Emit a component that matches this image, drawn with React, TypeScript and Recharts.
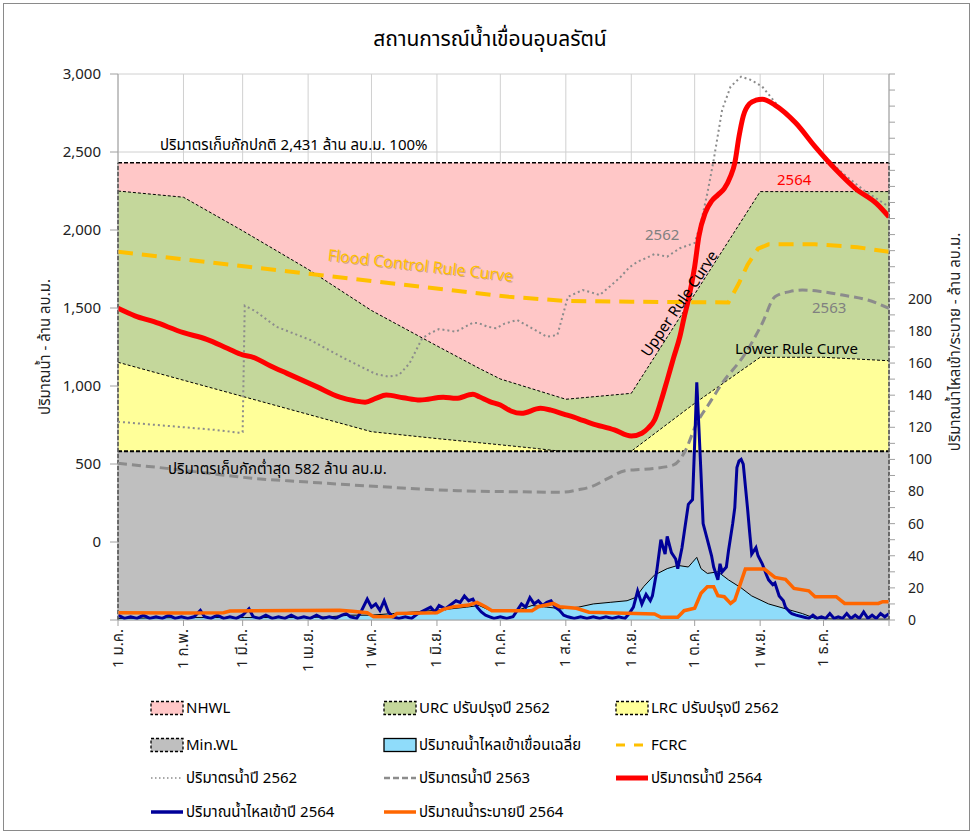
import React from 'react';
import { ComposedChart, Area, Line, XAxis, YAxis, CartesianGrid, ReferenceLine, Legend } from 'recharts';

const FONT = "Tahoma, 'Leelawadee UI', 'Noto Sans Thai', 'Noto Sans', 'DejaVu Sans', sans-serif";

// x = day of year (0 = 1 Jan)
const monthTicks = [0, 31, 59, 90, 120, 151, 181, 212, 243, 273, 304, 334, 365];
const monthLabels = ['1 ม.ค.', '1 ก.พ.', '1 มี.ค.', '1 เม.ย.', '1 พ.ค.', '1 มิ.ย.', '1 ก.ค.', '1 ส.ค.', '1 ก.ย.', '1 ต.ค.', '1 พ.ย.', '1 ธ.ค.', ''];
const leftTicks = [-500, 0, 500, 1000, 1500, 2000, 2500, 3000];
const rightTicks = [0, 10, 20, 30, 40, 50, 60, 70, 80, 90, 100, 110, 120, 130, 140, 150, 160, 170, 180, 190, 200, 210, 220, 230, 240, 250, 260, 270, 280, 290, 300, 310, 320, 330, 340];

const nhwl: [number, number][] = [[0, 2431], [365, 2431]];
const urc: [number, number][] = [[0, 2250], [31, 2210], [59, 1995], [90, 1748], [120, 1484], [151, 1257], [171, 1113], [181, 1045], [212, 915], [243, 953], [304, 2246], [365, 2246]];
const lrc: [number, number][] = [[0, 1152], [120, 707], [151, 663], [181, 623], [197, 601], [208, 584], [212, 582], [243, 582], [273, 889], [304, 1184], [334, 1184], [365, 1162]];
const minWL: [number, number][] = [[0, 582], [365, 582]];
const fcrc: [number, number][] = [[0, 1861], [185, 1572], [212, 1545], [243, 1540], [289, 1536], [294, 1660], [298, 1776], [303, 1880], [308, 1908], [330, 1908], [350, 1890], [365, 1860]];

const vol2562: [number, number][] = [[0, 771], [14, 755], [28, 739], [45, 720], [57, 701], [59, 705], [60, 1515], [65, 1480], [75, 1380], [91, 1295], [107, 1178], [122, 1077], [128, 1060], [133, 1070], [138, 1145], [144, 1306], [148, 1340], [152, 1365], [160, 1348], [168, 1406], [171, 1402], [175, 1380], [179, 1370], [183, 1400], [189, 1423], [196, 1370], [203, 1316], [208, 1327], [213, 1572], [220, 1615], [224, 1600], [228, 1583], [233, 1640], [238, 1700], [242, 1760], [246, 1797], [250, 1820], [254, 1846], [260, 1829], [266, 1883], [273, 1917], [276, 2050], [279, 2235], [282, 2449], [286, 2770], [290, 2919], [295, 2983], [300, 2960], [305, 2919], [314, 2770], [324, 2631], [333, 2492], [343, 2364], [353, 2256], [365, 2149]];
const vol2563: [number, number][] = [[0, 504], [23, 472], [40, 445], [64, 408], [88, 386], [125, 354], [161, 329], [190, 322], [210, 319], [218, 335], [224, 354], [232, 408], [240, 457], [244, 462], [254, 472], [263, 494], [268, 570], [274, 761], [280, 890], [286, 1017], [297, 1209], [305, 1402], [311, 1572], [318, 1605], [324, 1615], [333, 1605], [343, 1583], [355, 1551], [365, 1498]];
const vol2564: [number, number][] = [[0, 1498], [8, 1450], [17, 1412], [31, 1342], [42, 1299], [52, 1240], [59, 1199], [64, 1184], [72, 1130], [80, 1081], [94, 996], [105, 928], [112, 905], [117, 896], [122, 920], [127, 942], [135, 925], [143, 910], [154, 928], [160, 921], [168, 947], [171, 931], [176, 900], [181, 878], [186, 840], [191, 825], [200, 857], [205, 845], [211, 820], [218, 790], [224, 761], [235, 718], [243, 679], [248, 697], [251, 730], [254, 782], [257, 900], [260, 1038], [263, 1180], [266, 1316], [268, 1440], [270, 1551], [273, 1765], [275, 1960], [278, 2110], [281, 2185], [284, 2225], [287, 2265], [290, 2345], [292, 2430], [294, 2600], [296, 2730], [299, 2810], [302, 2832], [305, 2838], [311, 2801], [321, 2684], [330, 2534], [340, 2384], [349, 2267], [359, 2171], [365, 2085]];

const avgInflow: [number, number][] = [[0, 1], [30, 1.5], [60, 1.5], [90, 1.5], [100, 2], [110, 3], [120, 3], [130, 4], [140, 5], [150, 6], [158, 7], [165, 8], [171, 9], [176, 6], [182, 6], [189, 6], [196, 9], [203, 8], [210, 7], [218, 8], [225, 10], [233, 11], [241, 12], [245, 14], [249, 21], [254, 28], [260, 32], [265, 34], [270, 33], [272, 36], [274, 39], [276, 32], [279, 29], [284, 30], [289, 25], [295, 20], [300, 15], [308, 10], [316, 7], [324, 4], [330, 1], [340, 0.5], [365, 0.5]];
const inflow2564: [number, number][] = [[0, 3], [3, 1], [6, 2], [9, 1], [12, 3], [15, 1], [18, 2], [21, 1], [24, 3], [27, 1], [30, 2], [33, 1], [36, 2], [39, 6], [41, 2], [44, 1], [47, 3], [50, 1], [53, 2], [56, 1], [59, 3], [62, 7], [64, 2], [67, 1], [70, 3], [73, 1], [76, 2], [79, 1], [82, 3], [85, 1], [88, 2], [91, 1], [94, 3], [97, 1], [100, 2], [103, 1], [106, 3], [108, 4], [110, 2], [113, 1], [115, 5], [118, 13], [120, 8], [122, 10], [124, 6], [126, 12], [128, 5], [130, 2], [133, 1], [136, 2], [139, 1], [142, 4], [145, 6], [148, 8], [150, 5], [152, 9], [155, 7], [158, 10], [160, 12], [162, 11], [164, 15], [166, 12], [168, 13], [170, 8], [172, 5], [174, 3], [176, 2], [178, 1], [181, 2], [184, 1], [187, 2], [189, 6], [191, 10], [193, 8], [195, 14], [197, 10], [199, 12], [201, 9], [203, 11], [205, 12], [207, 8], [209, 6], [211, 3], [213, 2], [216, 1], [219, 2], [222, 1], [225, 2], [228, 1], [231, 2], [234, 1], [237, 2], [240, 1], [242, 4], [244, 8], [246, 18], [248, 10], [250, 16], [252, 12], [253, 15], [255, 30], [257, 50], [259, 41], [260, 52], [262, 42], [264, 38], [265, 32], [267, 45], [268, 54], [270, 72], [272, 75], [273, 110], [274, 148], [275, 120], [276, 91], [277, 60], [279, 50], [281, 40], [282, 33], [284, 25], [285, 35], [286, 30], [288, 33], [289, 43], [291, 60], [292, 70], [293, 95], [294, 99], [295, 100], [296, 97], [298, 70], [299, 55], [300, 41], [302, 45], [303, 40], [305, 35], [307, 28], [308, 25], [310, 22], [311, 23], [313, 15], [315, 12], [316, 8], [318, 5], [319, 4], [321, 3], [324, 2], [327, 1], [329, 3], [331, 1], [333, 2], [335, 1], [337, 4], [339, 1], [341, 2], [343, 1], [345, 4], [347, 1], [349, 3], [351, 1], [353, 5], [355, 1], [357, 3], [359, 1], [361, 4], [363, 2], [365, 4]];
const release2564: [number, number][] = [[0, 4.5], [31, 4.3], [50, 4.5], [53, 5.6], [105, 6], [111, 5.5], [118, 4.5], [121, 2], [130, 2], [132, 4], [151, 4.5], [154, 6.6], [159, 8.3], [166, 9.3], [170, 11], [174, 8.3], [177, 5.8], [196, 5.8], [199, 8.3], [206, 10.3], [209, 8.3], [217, 7.3], [223, 4.8], [254, 3.7], [257, 1.7], [265, 1.7], [268, 5.8], [273, 7.3], [276, 16.6], [279, 20.7], [282, 20.7], [284, 15.1], [287, 14.5], [290, 10.3], [292, 12.4], [297, 31.7], [306, 31.7], [311, 26.5], [316, 25.3], [320, 19.7], [327, 18.2], [330, 14.5], [340, 14.5], [344, 10.3], [360, 10.3], [362, 11.4], [365, 11.4]];

const pts = (a: [number, number][]) => a.map(([d, v]) => ({ d, v }));

const XTick = (props: any) => {
  const { x, y, payload } = props;
  const i = monthTicks.indexOf(payload.value);
  const label = i >= 0 ? monthLabels[i] : '';
  return (
    <text x={x} y={y} transform={`rotate(-90 ${x} ${y})`} textAnchor="end" dominantBaseline="central"
      fontSize={15} fontFamily={FONT} fill="#222">{label}</text>
  );
};

const areaIcon = (fill: string, dashed: boolean) => (
  <svg width={36} height={18} style={{ display: 'block' }}>
    <rect x={1} y={2.5} width={32} height={13} fill={fill} stroke="#000" strokeWidth={1.3} strokeDasharray={dashed ? '3 2' : undefined} />
  </svg>
);
const lineIcon = (color: string, width: number, dash?: string) => (
  <svg width={36} height={18} style={{ display: 'block' }}>
    <line x1={1} y1={9} x2={33} y2={9} stroke={color} strokeWidth={width} strokeDasharray={dash} />
  </svg>
);

const legendCols = [150, 383, 615];
const legendRows = [708, 745, 778, 812];
const legendItems = [
  { r: 0, c: 0, label: 'NHWL', icon: areaIcon('#ffc7c7', true) },
  { r: 0, c: 1, label: 'URC ปรับปรุงปี 2562', icon: areaIcon('#c4d79b', true) },
  { r: 0, c: 2, label: 'LRC ปรับปรุงปี 2562', icon: areaIcon('#ffff99', true) },
  { r: 1, c: 0, label: 'Min.WL', icon: areaIcon('#bfbfbf', true) },
  { r: 1, c: 1, label: 'ปริมาณน้ำไหลเข้าเขื่อนเฉลี่ย', icon: areaIcon('#8fdcfa', false) },
  { r: 1, c: 2, label: 'FCRC', icon: lineIcon('#ffc000', 3, '9 9') },
  { r: 2, c: 0, label: 'ปริมาตรน้ำปี 2562', icon: lineIcon('#8c8c8c', 1.5, '1.5 2.5') },
  { r: 2, c: 1, label: 'ปริมาตรน้ำปี 2563', icon: lineIcon('#8c8c8c', 2.5, '6 3') },
  { r: 2, c: 2, label: 'ปริมาตรน้ำปี 2564', icon: lineIcon('#ff0000', 5) },
  { r: 3, c: 0, label: 'ปริมาณน้ำไหลเข้าปี 2564', icon: lineIcon('#000099', 3.5) },
  { r: 3, c: 1, label: 'ปริมาณน้ำระบายปี 2564', icon: lineIcon('#ff6600', 3.5) },
];
const LEG_TOP = 690;

const LegendContent = () => (
  <div style={{ position: 'relative', width: 974, height: 140, fontFamily: FONT, fontSize: 15, color: '#000' }}>
    {legendItems.map((it, k) => (
      <div key={k} style={{ position: 'absolute', left: legendCols[it.c], top: legendRows[it.r] - LEG_TOP - 10, height: 20, display: 'flex', alignItems: 'center', whiteSpace: 'nowrap' }}>
        {it.icon}
        <span>{it.label}</span>
      </div>
    ))}
  </div>
);

const Annotations = () => (
  <svg width={974} height={834} style={{ position: 'absolute', left: 0, top: 0, pointerEvents: 'none' }}>
    <text x={490} y={46} textAnchor="middle" fontSize={21} fontFamily={FONT} fill="#000">สถานการณ์น้ำเขื่อนอุบลรัตน์</text>
    <text x={45} y={347} transform="rotate(-90 45 347)" textAnchor="middle" dominantBaseline="central" fontSize={15} fontFamily={FONT} fill="#222">ปริมาณน้ำ - ล้าน ลบ.ม.</text>
    <text x={955} y={342} transform="rotate(-90 955 342)" textAnchor="middle" dominantBaseline="central" fontSize={15} fontFamily={FONT} fill="#222">ปริมาณน้ำไหลเข้า/ระบาย - ล้าน ลบ.ม.</text>
    <text x={160} y={150} fontSize={15} fontFamily={FONT} fill="#000">ปริมาตรเก็บกักปกติ 2,431 ล้าน ลบ.ม. 100%</text>
    <text x={421} y={272} transform="rotate(6.5 420 270)" textAnchor="middle" fontSize={16} fontFamily={FONT} fill="#8a6a30" opacity={0.4}>Flood Control Rule Curve</text>
    <text x={420} y={271} transform="rotate(6.5 420 270)" textAnchor="middle" fontSize={16} fontFamily={FONT} fill="#ffc000">Flood Control Rule Curve</text>
    <text x={645} y={240} fontSize={15} fontFamily={FONT} fill="#808080">2562</text>
    <text x={680} y={304} transform="rotate(-56 680 304)" textAnchor="middle" dominantBaseline="central" fontSize={15} fontFamily={FONT} fill="#000">Upper Rule Curve</text>
    <text x={777} y={185} fontSize={15} fontFamily={FONT} fill="#ff0000">2564</text>
    <text x={812} y={313} fontSize={15} fontFamily={FONT} fill="#808080">2563</text>
    <text x={735} y={354} fontSize={15} fontFamily={FONT} fill="#000">Lower Rule Curve</text>
    <text x={168} y={474} fontSize={15} fontFamily={FONT} fill="#000">ปริมาตรเก็บกักต่ำสุด 582 ล้าน ลบ.ม.</text>
  </svg>
);

export default function App() {
  const edge = { stroke: '#000', strokeDasharray: '4 2', strokeWidth: 1.5 };
  return (
    <div style={{ position: 'absolute', left: 0, top: 0, width: 974, height: 834, background: '#fff' }}>
      <div style={{ position: 'absolute', left: 3, top: 3, width: 965, height: 826, border: '1px solid #8a8a8a' }} />
      <div style={{ position: 'absolute', left: 0, top: 0 }}>
        <ComposedChart width={974} height={834} margin={{ top: 74, right: 35, bottom: 154, left: 58 }}>
          <CartesianGrid yAxisId="left" stroke="#d0d0d0" strokeWidth={1} horizontalValues={leftTicks} verticalValues={monthTicks} />
          <XAxis dataKey="d" type="number" domain={[0, 365]} ticks={monthTicks} interval={0} allowDataOverflow
            height={60} tickSize={6} tickMargin={3} tick={<XTick />} stroke="#a0a0a0" />
          <YAxis yAxisId="left" type="number" domain={[-500, 3000]} ticks={leftTicks} interval={0} allowDataOverflow width={60}
            tickSize={8} tickMargin={9} stroke="#a0a0a0"
            tick={{ fontSize: 15, fill: '#222', fontFamily: FONT }}
            tickFormatter={(v: number) => (v < 0 ? '' : v.toLocaleString('en-US'))} />
          <YAxis yAxisId="right" orientation="right" type="number" domain={[0, 340]} ticks={rightTicks} interval={0} allowDataOverflow width={50}
            tickSize={6} tickMargin={13} stroke="#a0a0a0"
            tick={{ fontSize: 14, fill: '#222', fontFamily: FONT, textAnchor: 'start' }}
            tickFormatter={(v: number) => (v % 20 === 0 && v <= 200 ? String(v) : '')} />

          <Area yAxisId="left" data={pts(nhwl)} dataKey="v" type="linear" baseValue="dataMin" fill="#ffc7c7" fillOpacity={1} {...edge} isAnimationActive={false} dot={false} activeDot={false} />
          <Area yAxisId="left" data={pts(urc)} dataKey="v" type="linear" baseValue="dataMin" fill="#c4d79b" fillOpacity={1} stroke="#000" strokeWidth={1} strokeDasharray="3 2" isAnimationActive={false} dot={false} activeDot={false} />
          <Area yAxisId="left" data={pts(lrc)} dataKey="v" type="linear" baseValue="dataMin" fill="#ffff99" fillOpacity={1} stroke="#000" strokeWidth={1} strokeDasharray="3 2" isAnimationActive={false} dot={false} activeDot={false} />
          <Area yAxisId="left" data={pts(minWL)} dataKey="v" type="linear" baseValue="dataMin" fill="#bfbfbf" fillOpacity={1} stroke="#000" strokeWidth={2} strokeDasharray="4 2" isAnimationActive={false} dot={false} activeDot={false} />
          <ReferenceLine yAxisId="left" segment={[{ x: 0, y: -500 }, { x: 0, y: 2431 }]} {...edge} />
          <ReferenceLine yAxisId="left" segment={[{ x: 365, y: -500 }, { x: 365, y: 2431 }]} {...edge} />
          <Area yAxisId="right" data={pts(avgInflow)} dataKey="v" type="linear" fill="#8fdcfa" fillOpacity={1} stroke="#000" strokeWidth={1} isAnimationActive={false} dot={false} activeDot={false} />

          <Line yAxisId="left" data={pts(fcrc)} dataKey="v" type="linear" stroke="#ffc000" strokeWidth={4} strokeDasharray="15 9" dot={false} activeDot={false} isAnimationActive={false} />
          <Line yAxisId="left" data={pts(vol2562)} dataKey="v" type="linear" stroke="#8c8c8c" strokeWidth={2} strokeDasharray="2 3" dot={false} activeDot={false} isAnimationActive={false} />
          <Line yAxisId="left" data={pts(vol2563)} dataKey="v" type="monotone" stroke="#8c8c8c" strokeWidth={3} strokeDasharray="9 5" dot={false} activeDot={false} isAnimationActive={false} />
          <Line yAxisId="left" data={pts(vol2564)} dataKey="v" type="monotone" stroke="#ff0000" strokeWidth={5} dot={false} activeDot={false} isAnimationActive={false} />
          <Line yAxisId="right" data={pts(inflow2564)} dataKey="v" type="linear" stroke="#000099" strokeWidth={3} dot={false} activeDot={false} isAnimationActive={false} />
          <Line yAxisId="right" data={pts(release2564)} dataKey="v" type="linear" stroke="#ff6600" strokeWidth={3.5} dot={false} activeDot={false} isAnimationActive={false} />

          <Legend layout="horizontal" verticalAlign="middle" align="center" content={<LegendContent />}
            wrapperStyle={{ top: LEG_TOP, left: 0, width: 974, height: 140 }} />
        </ComposedChart>
      </div>
      <Annotations />
    </div>
  );
}
